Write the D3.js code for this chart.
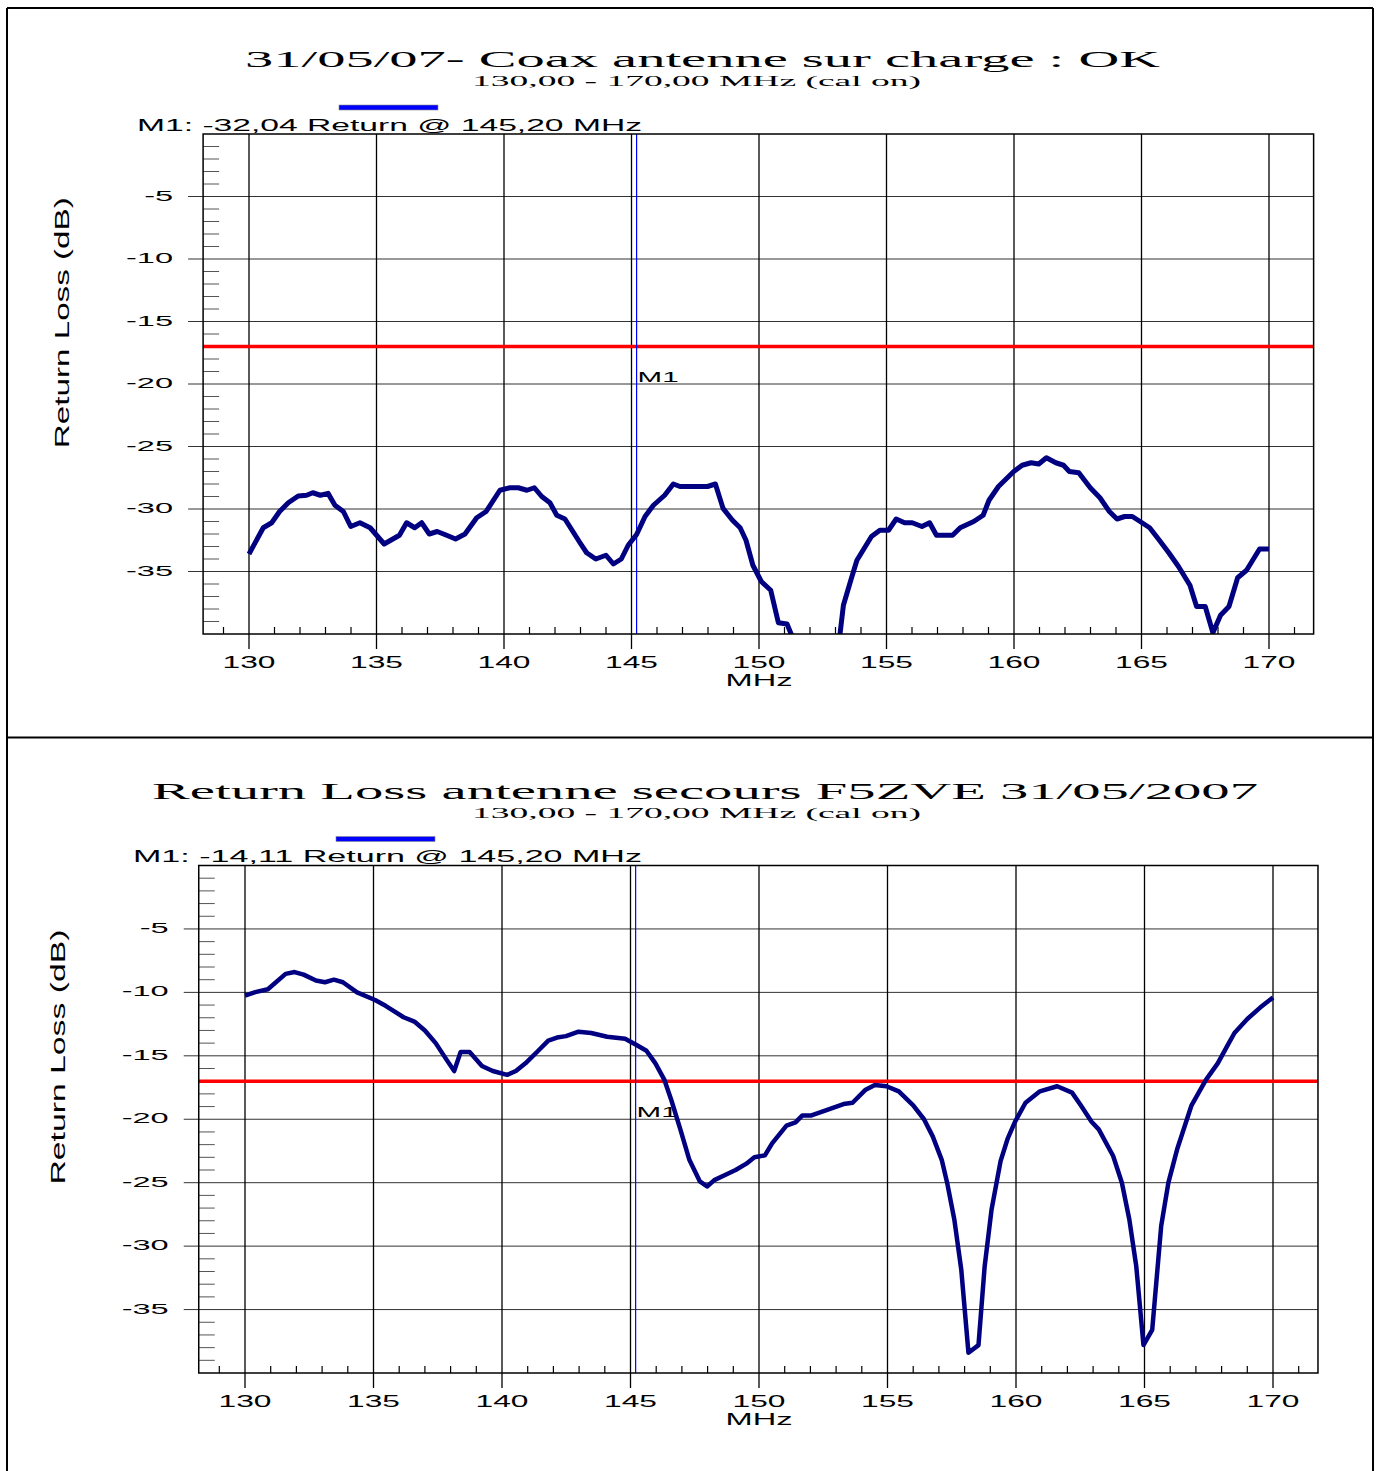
<!DOCTYPE html>
<html>
<head>
<meta charset="utf-8">
<script src="https://cdnjs.cloudflare.com/ajax/libs/d3/7.8.5/d3.min.js"></script>
<style>
  html, body { margin: 0; padding: 0; background: #fff; }
  svg { display: block; }
  text { font-family: 'Liberation Sans', Arial, Helvetica, sans-serif; fill: #000; }
  .serif { font-family: 'Liberation Serif', 'Times New Roman', serif; }
</style>
</head>
<body>
<svg id="chart" width="1378" height="1471"></svg>
<script>
// Sweep 1: coax on dummy load
var freqTop = [130.0, 130.56, 130.89, 131.2, 131.54, 131.93, 132.26, 132.5, 132.8, 133.1,
  133.37, 133.7, 133.99, 134.35, 134.75, 135.3, 135.9, 136.18, 136.5, 136.77,
  137.07, 137.38, 137.75, 138.1, 138.47, 138.93, 139.3, 139.84, 140.24, 140.56,
  140.9, 141.19, 141.48, 141.8, 142.07, 142.39, 142.98, 143.24, 143.6, 144.0,
  144.29, 144.6, 144.87, 145.2, 145.53, 145.86, 146.3, 146.64, 146.9, 147.68,
  147.98, 148.29, 148.59, 148.96, 149.26, 149.49, 149.76, 150.09, 150.46, 150.76,
  151.1, 151.28, 151.4, 153.1, 153.16, 153.31, 153.6, 153.84, 154.14, 154.41,
  154.74, 155.08, 155.38, 155.71, 156.01, 156.39, 156.69, 156.96, 157.59, 157.89,
  158.42, 158.79, 159.02, 159.39, 159.99, 160.32, 160.67, 160.97, 161.27, 161.64,
  161.94, 162.17, 162.54, 162.99, 163.37, 163.74, 164.04, 164.34, 164.64, 165.02,
  165.32, 165.7, 166.07, 166.45, 166.9, 167.16, 167.5, 167.8, 168.1, 168.43,
  168.77, 169.12, 169.63, 170.0];
var lossTop = [-33.6, -31.5, -31.1, -30.2, -29.5, -28.96, -28.9, -28.7, -28.9, -28.75,
  -29.7, -30.2, -31.4, -31.1, -31.5, -32.8, -32.1, -31.1, -31.5, -31.1,
  -32.0, -31.8, -32.1, -32.4, -32.0, -30.7, -30.2, -28.5, -28.3, -28.3,
  -28.5, -28.3, -29.0, -29.5, -30.5, -30.8, -32.7, -33.5, -34.0, -33.7,
  -34.4, -34.0, -32.9, -32.04, -30.6, -29.7, -28.9, -28.0, -28.2, -28.2,
  -28.2, -28.0, -29.95, -30.9, -31.5, -32.5, -34.5, -35.8, -36.5, -39.1,
  -39.2, -40.1, -41.5, -41.5, -40.3, -37.7, -35.7, -34.1, -33.1, -32.2,
  -31.7, -31.7, -30.8, -31.1, -31.1, -31.4, -31.1, -32.1, -32.1, -31.5,
  -31.0, -30.5, -29.3, -28.2, -27.0, -26.5, -26.3, -26.4, -25.9, -26.3,
  -26.5, -27.0, -27.1, -28.3, -29.1, -30.2, -30.8, -30.6, -30.6, -31.1,
  -31.5, -32.5, -33.5, -34.6, -36.1, -37.8, -37.8, -39.9, -38.5, -37.8,
  -35.5, -34.9, -33.2, -33.2];

// Sweep 2: backup antenna F5ZVE
var freqBottom = [130.0, 130.4, 130.89, 131.58, 131.93, 132.28, 132.76, 133.11, 133.46, 133.81,
  134.36, 135.06, 135.47, 136.17, 136.59, 137.0, 137.42, 137.84, 138.14, 138.39,
  138.74, 139.22, 139.64, 140.2, 140.54, 140.96, 141.38, 141.8, 142.14, 142.49,
  142.98, 143.47, 144.09, 144.44, 144.79, 145.2, 145.62, 145.97, 146.32, 146.59,
  146.94, 147.29, 147.7, 147.98, 148.26, 148.68, 149.09, 149.51, 149.82, 150.23,
  150.51, 151.07, 151.42, 151.69, 152.04, 152.6, 153.29, 153.64, 154.13, 154.51,
  154.96, 155.44, 156.0, 156.42, 156.76, 157.11, 157.32, 157.6, 157.87, 158.15,
  158.54, 158.78, 159.05, 159.4, 159.68, 159.96, 160.37, 160.93, 161.6, 162.18,
  162.52, 162.94, 163.22, 163.78, 164.12, 164.41, 164.68, 164.96, 165.3, 165.65,
  165.93, 166.28, 166.83, 167.39, 167.85, 168.2, 168.5, 169.0, 169.5, 170.0];
var lossBottom = [-10.25, -9.98, -9.75, -8.54, -8.4, -8.6, -9.07, -9.2, -9.0, -9.2,
  -10.0, -10.6, -11.06, -11.96, -12.3, -13.0, -14.0, -15.3, -16.2, -14.7,
  -14.7, -15.8, -16.2, -16.5, -16.2, -15.5, -14.66, -13.8, -13.56, -13.45,
  -13.1, -13.2, -13.5, -13.58, -13.66, -14.11, -14.6, -15.6, -16.9, -18.5,
  -20.8, -23.2, -24.9, -25.3, -24.8, -24.4, -24.0, -23.5, -23.0, -22.85,
  -21.9, -20.5, -20.25, -19.7, -19.7, -19.3, -18.8, -18.7, -17.7, -17.3,
  -17.4, -17.8, -18.9, -20.0, -21.35, -23.2, -25.0, -27.9, -31.85, -38.4,
  -37.8, -31.6, -27.1, -23.3, -21.5, -20.2, -18.7, -17.8, -17.4, -17.9,
  -18.9, -20.2, -20.8, -22.9, -25.0, -27.9, -31.6, -37.8, -36.6, -28.4,
  -25.0, -22.3, -18.9, -16.9, -15.6, -14.3, -13.2, -12.1, -11.2, -10.4];

var xTicks = [130, 135, 140, 145, 150, 155, 160, 165, 170];
var yTicks = [-5, -10, -15, -20, -25, -30, -35];
var xMinor = d3.range(129, 172).filter(function(f) { return f % 5 !== 0; });
var yMinor = d3.range(-1, -40, -1).filter(function(v) { return v % 5 !== 0; });

var titles = ['31/05/07- Coax antenne sur charge : OK', 'Return Loss antenne secours F5ZVE 31/05/2007'];
var subtitle = '130,00 - 170,00 MHz (cal on)';
var markerFreq = 145.2;
var markerReadouts = ['-32,04', '-14,11'];
var limitLoss = -17;

var svg = d3.select('#chart');

// The analyser prints in a very wide font: squeeze/stretch glyphs to a pixel width
function fitText(sel, width) {
  sel.attr('textLength', width).attr('lengthAdjust', 'spacingAndGlyphs');
}

function widen(sel, k) {
  sel.each(function() {
    var w = this.getComputedTextLength();
    d3.select(this).attr('textLength', w * k).attr('lengthAdjust', 'spacingAndGlyphs');
  });
}

function drawPanel(p) {
  var g = svg.append('g');
  var x = d3.scaleLinear().domain([130, 170]).range([p.x130, p.x170]);
  var y = d3.scaleLinear().domain([0, -40]).range([p.yTop, p.yBottom]);
  var left = x(128.2), right = x(171.75), top = y(0), bottom = y(-40);

  // header
  g.append('text').attr('class', 'serif')
    .attr('x', p.titleX).attr('y', top - 67)
    .style('font-size', '24px')
    .text(p.title)
    .call(fitText, p.titleW);
  g.append('text').attr('class', 'serif')
    .attr('x', 472).attr('y', top - 48)
    .style('font-size', '14px')
    .text(subtitle)
    .call(fitText, 449);
  g.append('rect')
    .attr('x', p.barX).attr('y', top - 29)
    .attr('width', 99).attr('height', 5)
    .attr('fill', '#0000ff').attr('stroke', '#8a8a8a').attr('stroke-width', 0.6);
  g.append('text')
    .attr('x', p.readX).attr('y', top - 3.5)
    .style('font-size', '16px')
    .text('M1: ' + p.readout + ' Return @ 145,20 MHz')
    .call(fitText, p.readW);

  // horizontal grid + major ticks on the left
  g.append('g').selectAll('line').data(yTicks).join('line')
    .attr('x1', left - 15).attr('x2', right)
    .attr('y1', function(d) { return y(d); }).attr('y2', function(d) { return y(d); })
    .attr('stroke', '#333').attr('stroke-width', 1);
  g.append('g').selectAll('line').data(yMinor).join('line')
    .attr('x1', left).attr('x2', left + 16)
    .attr('y1', function(d) { return y(d); }).attr('y2', function(d) { return y(d); })
    .attr('stroke', '#555').attr('stroke-width', 1);

  // vertical grid
  g.append('g').selectAll('line').data(xTicks).join('line')
    .attr('x1', function(d) { return x(d); }).attr('x2', function(d) { return x(d); })
    .attr('y1', top).attr('y2', bottom + 15)
    .attr('stroke', '#000').attr('stroke-width', 1.3);
  g.append('g').selectAll('line').data(xMinor).join('line')
    .attr('x1', function(d) { return x(d); }).attr('x2', function(d) { return x(d); })
    .attr('y1', bottom - 7).attr('y2', bottom)
    .attr('stroke', '#000').attr('stroke-width', 1.2);

  // limit line
  g.append('line')
    .attr('x1', left).attr('x2', right)
    .attr('y1', y(limitLoss)).attr('y2', y(limitLoss))
    .attr('stroke', '#ff0000').attr('stroke-width', 3.5);

  // marker
  g.append('line')
    .attr('x1', x(markerFreq)).attr('x2', x(markerFreq))
    .attr('y1', top).attr('y2', bottom)
    .attr('stroke', '#0000ff').attr('stroke-width', 1.2);
  g.append('text')
    .attr('x', x(markerFreq) + 1).attr('y', y(-20) - 2)
    .style('font-size', '15px')
    .text('M1')
    .call(fitText, 41);

  // trace
  var clipId = 'clip' + p.id;
  g.append('clipPath').attr('id', clipId)
    .append('rect')
    .attr('x', left).attr('y', top)
    .attr('width', right - left).attr('height', bottom - top);
  var line = d3.line()
    .x(function(d, i) { return x(p.freq[i]); })
    .y(function(d) { return y(d); });
  g.append('path')
    .attr('clip-path', 'url(#' + clipId + ')')
    .attr('d', line(p.loss))
    .attr('fill', 'none')
    .attr('stroke', '#000080')
    .attr('stroke-width', p.lineW)
    .attr('stroke-linejoin', 'round');

  // plot frame
  g.append('rect')
    .attr('x', left).attr('y', top)
    .attr('width', right - left).attr('height', bottom - top)
    .attr('fill', 'none').attr('stroke', '#000').attr('stroke-width', 1.5);

  // tick labels
  g.append('g').selectAll('text').data(yTicks).join('text')
    .attr('x', left - 30)
    .attr('y', function(d) { return y(d) + 4; })
    .attr('text-anchor', 'end')
    .style('font-size', '15px')
    .text(function(d) { return d; })
    .call(widen, 2.17);
  g.append('g').selectAll('text').data(xTicks).join('text')
    .attr('x', function(d) { return x(d); })
    .attr('y', bottom + 34)
    .attr('text-anchor', 'middle')
    .style('font-size', '16px')
    .text(function(d) { return d; })
    .call(widen, 1.98);

  // axis titles
  g.append('text')
    .attr('x', x(150)).attr('y', bottom + 52)
    .attr('text-anchor', 'middle')
    .style('font-size', '16px')
    .text('MHz')
    .call(fitText, 67);
  g.append('text')
    .attr('transform', 'translate(' + p.yLabelX + ',' + y(-15.1) + ') rotate(-90)')
    .attr('text-anchor', 'middle')
    .style('font-size', '21px')
    .text('Return Loss (dB)')
    .call(fitText, p.yLabelW);
}

drawPanel({
  id: 1, title: titles[0], titleX: 245, titleW: 915,
  barX: 339, readX: 137, readW: 505, readout: markerReadouts[0],
  x130: 249, x170: 1269, yTop: 134, yBottom: 634,
  yLabelX: 69, yLabelW: 251, lineW: 5,
  freq: freqTop, loss: lossTop
});

drawPanel({
  id: 2, title: titles[1], titleX: 152, titleW: 1106,
  barX: 336, readX: 133, readW: 509, readout: markerReadouts[1],
  x130: 245, x170: 1273, yTop: 865.5, yBottom: 1373,
  yLabelX: 65, yLabelW: 255, lineW: 4.5,
  freq: freqBottom, loss: lossBottom
});

// outer frame of the two printouts
var frame = svg.append('g').attr('stroke', '#000').attr('stroke-width', 2);
frame.append('line').attr('x1', 7).attr('x2', 1373).attr('y1', 8).attr('y2', 8);
frame.append('line').attr('x1', 7).attr('x2', 1373).attr('y1', 737.5).attr('y2', 737.5);
frame.append('line').attr('x1', 7).attr('x2', 7).attr('y1', 8).attr('y2', 1471);
frame.append('line').attr('x1', 1373).attr('x2', 1373).attr('y1', 8).attr('y2', 1471);
</script>
</body>
</html>
